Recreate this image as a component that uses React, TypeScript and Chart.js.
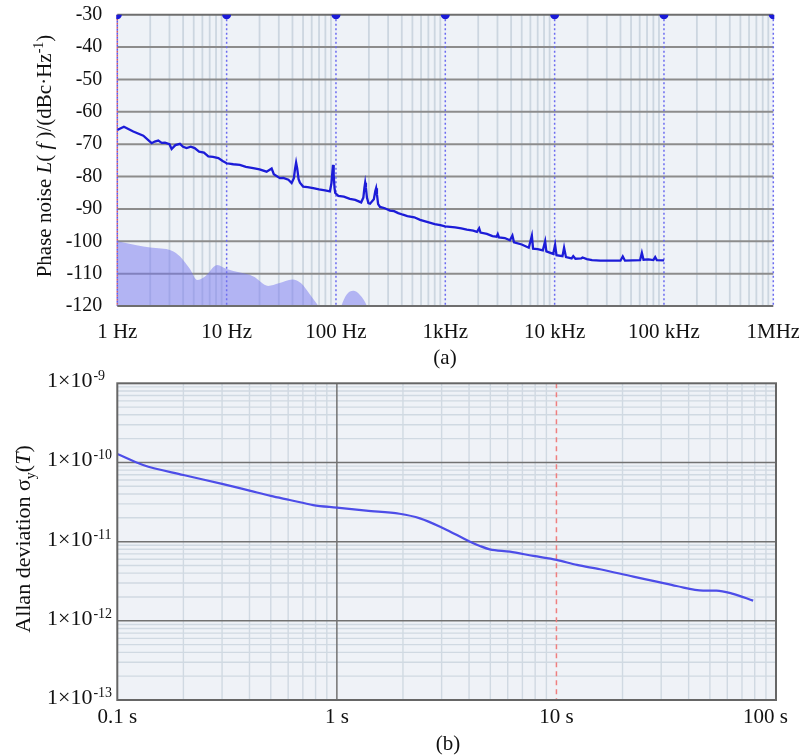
import React, { useEffect, useRef } from 'react';
import { Chart, registerables } from 'chart.js';

Chart.register(...registerables);

const SERIF = "'Liberation Serif', 'Times New Roman', serif";

// ---------- (a) phase noise ----------
const noiseFreq = [
  1, 1.15, 1.4, 1.73, 2.06, 2.2, 2.37, 2.55, 2.73, 3.0, 3.14, 3.4, 3.74, 4.0, 4.3, 4.7, 5.1, 5.6,
  6.2, 6.8, 7.5, 8.4, 9.2, 10, 11.5, 13.2, 15, 17.5, 20, 23.2, 25.8, 27, 30.7, 33, 36.7, 39.3,
  41.2, 42.3, 43.2, 44.2, 45.5, 46.8, 50.1, 55, 61.9, 70, 79.5, 88, 91, 92.8, 94, 95.3, 97,
  98.5, 105, 118, 134, 150, 170, 178, 182, 185, 188, 192, 198, 205, 222, 229, 233, 237, 243,
  253, 280, 312, 340, 371, 410, 450, 520, 588, 680, 800, 900, 996, 1230, 1400, 1574, 1800, 1950,
  2040, 2100, 2400, 2700, 2950, 3020, 3100, 3500, 3900, 4110, 4250, 5000, 5800, 6190, 6350, 7000,
  7800, 8190, 8400, 9700, 10100, 10400, 11800, 12200, 12700, 14300, 14800, 15500, 17500, 18000,
  19700, 22000, 26100, 32000, 40000, 42000, 44000, 52000, 60500, 62800, 65000, 72000, 80000,
  83100, 86000, 100400,
];
const noiseDb = [
  -65.6, -64.6, -66.1, -67.4, -69.7, -69.2, -68.9, -69.6, -69.5, -70.0, -71.5, -70.3, -69.9,
  -70.8, -71.2, -70.8, -71.2, -72.3, -72.6, -73.8, -73.9, -74.3, -75.2, -75.9, -76.2, -76.4,
  -77.0, -77.4, -77.8, -78.5, -77.5, -79.3, -80.5, -80.4, -81.0, -82.0, -80.5, -77.5, -75.7,
  -77.5, -80.8, -81.9, -83.1, -83.3, -83.6, -84.0, -84.3, -84.6, -82.0, -78.5, -76.4, -79.5,
  -83.5, -85.1, -86.0, -86.2, -86.9, -87.2, -88.0, -86.5, -83.5, -81.9, -83.5, -86.5, -88.2,
  -88.4, -87.0, -84.5, -83.6, -85.5, -88.5, -89.4, -89.8, -90.5, -90.7, -91.3, -91.8, -92.2,
  -92.6, -93.4, -94.0, -94.7, -95.0, -95.4, -95.7, -96.0, -96.4, -96.7, -97.1, -96.0, -97.3,
  -97.7, -98.4, -98.6, -97.8, -98.8, -99.0, -99.7, -98.2, -100.3, -101.0, -102.0, -98.3,
  -102.3, -102.4, -102.8, -100.0, -103.1, -103.9, -101.1, -104.3, -104.6, -102.0, -104.9,
  -105.3, -104.6, -105.4, -105.3, -105.0, -105.5, -105.8, -106.0, -106.0, -106.0, -104.7,
  -106.0, -105.9, -105.8, -103.6, -105.7, -105.6, -105.8, -104.9, -105.8, -105.9,
];
const floorFreq = [
  1, 1.5, 2.0, 3.15, 3.75, 4.6, 5.4, 6.3, 8.2, 10, 17.6, 24, 30, 40, 48, 58, 69, 78, 92, 104,
  112, 125, 144, 165, 192, 210, 260,
];
const floorDb = [
  -100, -101.2, -101.9, -102.9, -104.7, -108.5, -112.0, -111.0, -107.3, -108.6, -110.9, -113.8,
  -113.0, -111.8, -113.0, -116.5, -120, -123, -126, -124, -120, -116.5, -115.3, -116.5, -120,
  -124, -130,
];
const freqTicks = [1, 10, 100, 1000, 10000, 100000, 1000000];
const freqLabels = ['1 Hz', '10 Hz', '100 Hz', '1kHz', '10 kHz', '100 kHz', '1MHz'];
const dbTicks = [-30, -40, -50, -60, -70, -80, -90, -100, -110, -120];

// ---------- (b) Allan deviation ----------
const tauValues = [
  0.1, 0.131, 0.2, 0.3, 0.4, 0.5, 0.61, 0.78, 1.0, 1.36, 1.93, 2.39, 3.05, 4.04, 4.48, 4.97, 6.14,
  7.85, 10.0, 12.4, 15.8, 22.4, 28.6, 35.2, 46.6, 53.6, 63.8, 78.7,
];
const adevValues = [
  1.28e-10, 9.3e-11, 6.95e-11, 5.37e-11, 4.41e-11, 3.78e-11, 3.36e-11, 2.9e-11, 2.69e-11,
  2.46e-11, 2.25e-11, 1.97e-11, 1.48e-11, 1.0e-11, 8.83e-12, 8.0e-12, 7.48e-12, 6.6e-12,
  5.89e-12, 5.08e-12, 4.48e-12, 3.61e-12, 3.13e-12, 2.75e-12, 2.41e-12, 2.41e-12, 2.19e-12,
  1.8e-12,
];
const tauTicks = [0.1, 1, 10, 100];
const tauLabels = ['0.1 s', '1 s', '10 s', '100 s'];
const adevTicks = [1e-9, 1e-10, 1e-11, 1e-12, 1e-13];
const adevExponents = ['-9', '-10', '-11', '-12', '-13'];
const markerTau = 10;

type Seg = { t: string; it?: boolean; sup?: boolean; sub?: boolean };

function drawRich(ctx: CanvasRenderingContext2D, segs: Seg[], cx: number, cy: number, size: number) {
  ctx.save();
  ctx.translate(cx, cy);
  ctx.rotate(-Math.PI / 2);
  const fontFor = (s: Seg) =>
    `${s.it ? 'italic ' : ''}${s.sup || s.sub ? Math.round(size * 0.65) : size}px ${SERIF}`;
  let total = 0;
  for (const s of segs) {
    ctx.font = fontFor(s);
    total += ctx.measureText(s.t).width;
  }
  let x = -total / 2;
  ctx.textAlign = 'left';
  ctx.textBaseline = 'alphabetic';
  ctx.fillStyle = '#111';
  for (const s of segs) {
    ctx.font = fontFor(s);
    const dy = s.sup ? -size * 0.38 : s.sub ? size * 0.22 : 0;
    ctx.fillText(s.t, x, size * 0.33 + dy);
    x += ctx.measureText(s.t).width;
  }
  ctx.restore();
}

function vline(ctx: CanvasRenderingContext2D, px: number, top: number, bottom: number) {
  ctx.beginPath();
  ctx.moveTo(px, top);
  ctx.lineTo(px, bottom);
  ctx.stroke();
}
function hline(ctx: CanvasRenderingContext2D, py: number, left: number, right: number) {
  ctx.beginPath();
  ctx.moveTo(left, py);
  ctx.lineTo(right, py);
  ctx.stroke();
}

const topGrid = {
  id: 'topGrid',
  beforeDatasetsDraw(chart: any) {
    const { ctx, chartArea, scales } = chart;
    const { left, right, top, bottom } = chartArea;
    const x = scales.x;
    const y = scales.y;
    ctx.save();
    ctx.fillStyle = '#eef2f7';
    ctx.fillRect(left, top, right - left, bottom - top);
    ctx.strokeStyle = '#ccd6e0';
    ctx.lineWidth = 1.8;
    freqTicks.slice(0, -1).forEach((d) => {
      for (let k = 2; k <= 9; k++) vline(ctx, x.getPixelForValue(k * d), top, bottom);
    });
    ctx.strokeStyle = '#8c8c8c';
    ctx.lineWidth = 2;
    dbTicks.slice(1, -1).forEach((v) => hline(ctx, y.getPixelForValue(v), left, right));
    ctx.strokeStyle = '#6b6bf0';
    ctx.lineWidth = 1.5;
    ctx.setLineDash([2, 2.5]);
    freqTicks.slice(1).forEach((v) => vline(ctx, x.getPixelForValue(v), top, bottom));
    ctx.strokeStyle = '#e05a5a';
    ctx.setLineDash([2, 2]);
    vline(ctx, left, top, bottom);
    ctx.strokeStyle = '#5a5af0';
    ctx.lineDashOffset = 2;
    vline(ctx, left, top, bottom);
    ctx.restore();
  },
  afterDatasetsDraw(chart: any) {
    const { ctx, chartArea, scales } = chart;
    const { left, right, top, bottom } = chartArea;
    ctx.save();
    ctx.strokeStyle = '#6e6e6e';
    ctx.lineWidth = 2;
    hline(ctx, top, left, right);
    hline(ctx, bottom, left, right);
    ctx.fillStyle = '#1a1ad8';
    freqTicks.forEach((v) => {
      const px = scales.x.getPixelForValue(v);
      ctx.save();
      ctx.beginPath();
      ctx.rect(left - 1, top - 1, right - left + 2, bottom - top + 2);
      ctx.clip();
      ctx.beginPath();
      ctx.arc(px, top, 4.5, 0, Math.PI);
      ctx.closePath();
      ctx.fill();
      ctx.restore();
    });
    drawRich(
      ctx,
      [
        { t: 'Phase noise ' },
        { t: 'L', it: true },
        { t: '( ' },
        { t: 'f', it: true },
        { t: ' )/(dBc·Hz' },
        { t: '-1', sup: true },
        { t: ')' },
      ],
      44,
      156,
      21,
    );
    ctx.restore();
  },
};

const bottomGrid = {
  id: 'bottomGrid',
  beforeDatasetsDraw(chart: any) {
    const { ctx, chartArea, scales } = chart;
    const { left, right, top, bottom } = chartArea;
    const x = scales.x;
    const y = scales.y;
    ctx.save();
    ctx.fillStyle = '#eff2f7';
    ctx.fillRect(left, top, right - left, bottom - top);
    ctx.strokeStyle = '#d0d9e2';
    ctx.lineWidth = 1.4;
    tauTicks.slice(0, -1).forEach((d) => {
      for (let k = 2; k <= 9; k++) vline(ctx, x.getPixelForValue(k * d), top, bottom);
    });
    adevTicks.slice(1).forEach((d) => {
      for (let k = 2; k <= 9; k++) hline(ctx, y.getPixelForValue(k * d), left, right);
    });
    ctx.strokeStyle = '#727272';
    ctx.lineWidth = 1.5;
    adevTicks.slice(1, -1).forEach((v) => hline(ctx, y.getPixelForValue(v), left, right));
    tauTicks.slice(1, -1).forEach((v) => {
      if (v !== markerTau) vline(ctx, x.getPixelForValue(v), top, bottom);
    });
    ctx.strokeStyle = '#ef7f7f';
    ctx.lineWidth = 1.5;
    ctx.setLineDash([5, 4]);
    vline(ctx, x.getPixelForValue(markerTau), top, bottom);
    ctx.restore();
  },
  afterDatasetsDraw(chart: any) {
    const { ctx, chartArea, scales, width } = chart;
    const { left, right, top, bottom } = chartArea;
    ctx.save();
    ctx.strokeStyle = '#666';
    ctx.lineWidth = 2;
    ctx.strokeRect(left, top, right - left, bottom - top);
    ctx.fillStyle = '#111';
    ctx.textBaseline = 'alphabetic';
    adevTicks.forEach((v, i) => {
      const py = scales.y.getPixelForValue(v);
      ctx.font = `22px ${SERIF}`;
      ctx.textAlign = 'left';
      const base = '1×10';
      ctx.fillText(base, 47, py + 4);
      const w = ctx.measureText(base).width;
      ctx.font = `14px ${SERIF}`;
      ctx.fillText(adevExponents[i], 47 + w + 1, py - 3);
    });
    ctx.font = `21px ${SERIF}`;
    ctx.textAlign = 'center';
    tauTicks.forEach((v, i) => {
      const w = ctx.measureText(tauLabels[i]).width;
      const px = Math.min(scales.x.getPixelForValue(v), width - 11 - w / 2);
      ctx.fillText(tauLabels[i], px, bottom + 23);
    });
    drawRich(
      ctx,
      [
        { t: 'Allan deviation ' },
        { t: 'σ' },
        { t: 'y', sub: true },
        { t: '(' },
        { t: 'T', it: true },
        { t: ')' },
      ],
      23,
      199,
      22,
    );
    ctx.restore();
  },
};

export default function App() {
  const topRef = useRef<HTMLCanvasElement>(null);
  const botRef = useRef<HTMLCanvasElement>(null);

  useEffect(() => {
    const c1 = new Chart(topRef.current as HTMLCanvasElement, {
      type: 'line',
      data: {
        datasets: [
          {
            data: noiseFreq.map((f, i) => ({ x: f, y: noiseDb[i] })),
            borderColor: '#1c1cd8',
            borderWidth: 2.3,
            pointRadius: 0,
            tension: 0,
            fill: false,
          },
          {
            data: floorFreq.map((f, i) => ({ x: f, y: floorDb[i] })),
            borderWidth: 0,
            borderColor: 'rgba(0,0,0,0)',
            backgroundColor: 'rgba(118,118,240,0.5)',
            fill: 'start',
            pointRadius: 0,
            cubicInterpolationMode: 'monotone',
          },
        ],
      },
      options: {
        animation: false,
        responsive: false,
        maintainAspectRatio: false,
        layout: { padding: { left: 0, top: 14.7, right: 25.7, bottom: 0 } },
        plugins: { legend: { display: false }, tooltip: { enabled: false } },
        scales: {
          x: {
            type: 'logarithmic',
            min: 1,
            max: 1e6,
            grid: { display: false },
            border: { display: false },
            afterBuildTicks: (s: any) => {
              s.ticks = freqTicks.map((v) => ({ value: v }));
            },
            afterFit: (s: any) => {
              s.height = 34;
              s.paddingLeft = 0;
              s.paddingRight = 0;
            },
            ticks: {
              autoSkip: false,
              maxRotation: 0,
              minRotation: 0,
              padding: 6,
              color: '#111',
              font: { family: SERIF, size: 21 },
              callback: (_v: any, i: number) => freqLabels[i],
            },
          },
          y: {
            type: 'linear',
            min: -120,
            max: -30,
            grid: { display: false },
            border: { display: false },
            afterBuildTicks: (s: any) => {
              s.ticks = dbTicks.map((v) => ({ value: v }));
            },
            afterFit: (s: any) => {
              s.width = 117.3;
              s.paddingTop = 0;
              s.paddingBottom = 0;
            },
            ticks: {
              autoSkip: false,
              padding: 7,
              color: '#111',
              font: { family: SERIF, size: 20 },
              callback: (v: any) => String(v),
            },
          },
        },
      } as any,
      plugins: [topGrid],
    });

    const c2 = new Chart(botRef.current as HTMLCanvasElement, {
      type: 'line',
      data: {
        datasets: [
          {
            data: tauValues.map((t, i) => ({ x: t, y: adevValues[i] })),
            borderColor: '#4d4de8',
            borderWidth: 2.2,
            pointRadius: 0,
            cubicInterpolationMode: 'monotone',
            fill: false,
          },
        ],
      },
      options: {
        animation: false,
        responsive: false,
        maintainAspectRatio: false,
        layout: { padding: { left: 0, top: 43.3, right: 23, bottom: 0 } },
        plugins: { legend: { display: false }, tooltip: { enabled: false } },
        scales: {
          x: {
            type: 'logarithmic',
            min: 0.1,
            max: 100,
            grid: { display: false },
            border: { display: false },
            ticks: { display: false },
            afterFit: (s: any) => {
              s.height = 55;
              s.paddingLeft = 0;
              s.paddingRight = 0;
            },
          },
          y: {
            type: 'logarithmic',
            min: 1e-13,
            max: 1e-9,
            grid: { display: false },
            border: { display: false },
            ticks: { display: false },
            afterFit: (s: any) => {
              s.width = 117.3;
              s.paddingTop = 0;
              s.paddingBottom = 0;
            },
          },
        },
      } as any,
      plugins: [bottomGrid],
    });

    return () => {
      c1.destroy();
      c2.destroy();
    };
  }, []);

  const labelStyle: React.CSSProperties = {
    position: 'absolute',
    width: 100,
    textAlign: 'center',
    fontFamily: SERIF,
    fontSize: 21,
    lineHeight: '24px',
    color: '#111',
  };

  return (
    <div style={{ position: 'absolute', left: 0, top: 0, width: 799, height: 755, background: '#fff' }}>
      <canvas
        ref={topRef}
        width={799}
        height={340}
        style={{ position: 'absolute', left: 0, top: 0, width: 799, height: 340 }}
      />
      <canvas
        ref={botRef}
        width={799}
        height={415}
        style={{ position: 'absolute', left: 0, top: 340, width: 799, height: 415 }}
      />
      <div style={{ ...labelStyle, left: 395, top: 345 }}>(a)</div>
      <div style={{ ...labelStyle, left: 398, top: 731 }}>(b)</div>
    </div>
  );
}
